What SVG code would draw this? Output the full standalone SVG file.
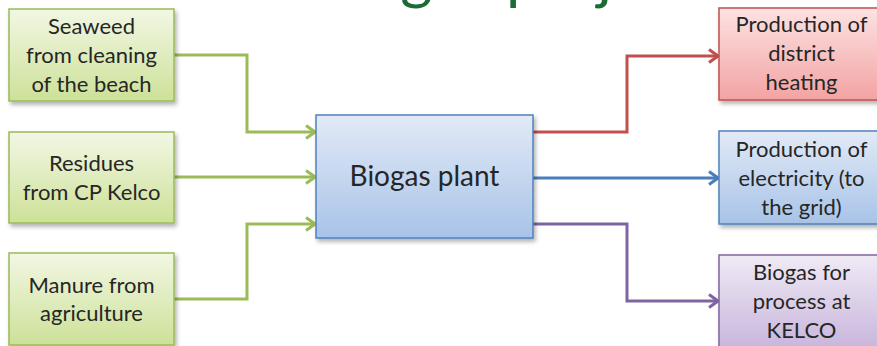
<svg xmlns="http://www.w3.org/2000/svg" width="877" height="346" viewBox="0 0 877 346">
  <style>
    .lbl { font-family: Lato, "Open Sans", "Liberation Sans", sans-serif; font-size: 22px; fill: #262626; text-anchor: middle; }
    .big { font-size: 28px; }
    .title { font-family: Lato, "Open Sans", "Liberation Sans", sans-serif; font-size: 62px; fill: #1c6b34; }
    .box { stroke-width: 1.5; filter: url(#shadow); }
    .g { fill: url(#gradGreen); stroke: #9bbb59; }
    .b { fill: url(#gradBlue); stroke: #4f81bd; }
    .r { fill: url(#gradRed); stroke: #c0504d; }
    .p { fill: url(#gradPurple); stroke: #8064a2; }
    .wire { fill: none; stroke-width: 3; stroke-linejoin: miter; }
    .wg { stroke: #9bbb59; marker-end: url(#arrG); }
    .wr { stroke: #c0504d; marker-end: url(#arrR); }
    .wb { stroke: #4a7ebb; marker-end: url(#arrB); }
    .wp { stroke: #8064a2; marker-end: url(#arrP); }
  </style>
  <defs>
    <filter id="shadow" x="-10%" y="-10%" width="125%" height="130%">
      <feDropShadow dx="2" dy="3" stdDeviation="2" flood-color="#000" flood-opacity="0.3"/>
    </filter>
    <linearGradient id="gradGreen" x1="0" y1="0" x2="0" y2="1">
      <stop offset="0" stop-color="#f2f7e4"/>
      <stop offset="1" stop-color="#cde198"/>
    </linearGradient>
    <linearGradient id="gradBlue" x1="0" y1="0" x2="0" y2="1">
      <stop offset="0" stop-color="#e2eaf6"/>
      <stop offset="1" stop-color="#a8c3e8"/>
    </linearGradient>
    <linearGradient id="gradRed" x1="0" y1="0" x2="0" y2="1">
      <stop offset="0" stop-color="#fde2e2"/>
      <stop offset="1" stop-color="#f3a3a3"/>
    </linearGradient>
    <linearGradient id="gradPurple" x1="0" y1="0" x2="0" y2="1">
      <stop offset="0" stop-color="#f0eaf5"/>
      <stop offset="1" stop-color="#c8b6dc"/>
    </linearGradient>
    <marker id="arrG" viewBox="0 0 12 16" refX="11" refY="8" markerWidth="12" markerHeight="16" markerUnits="userSpaceOnUse" orient="auto">
      <path d="M2,1.5 L11,8 L2,14.5" fill="none" stroke="#9bbb59" stroke-width="3"/>
    </marker>
    <marker id="arrR" viewBox="0 0 12 16" refX="11" refY="8" markerWidth="12" markerHeight="16" markerUnits="userSpaceOnUse" orient="auto">
      <path d="M2,1.5 L11,8 L2,14.5" fill="none" stroke="#c0504d" stroke-width="3"/>
    </marker>
    <marker id="arrB" viewBox="0 0 12 16" refX="11" refY="8" markerWidth="12" markerHeight="16" markerUnits="userSpaceOnUse" orient="auto">
      <path d="M2,1.5 L11,8 L2,14.5" fill="none" stroke="#4a7ebb" stroke-width="3"/>
    </marker>
    <marker id="arrP" viewBox="0 0 12 16" refX="11" refY="8" markerWidth="12" markerHeight="16" markerUnits="userSpaceOnUse" orient="auto">
      <path d="M2,1.5 L11,8 L2,14.5" fill="none" stroke="#8064a2" stroke-width="3"/>
    </marker>
  </defs>

  <rect width="877" height="346" fill="#ffffff"/>

  <!-- slide title, running off the top edge -->
  <text class="title" x="311" y="-3">Biogas project</text>

  <!-- connectors -->
  <g id="connectors">
    <path class="wire wg" d="M174,55 H247 V132 H315"/>
    <path class="wire wg" d="M174,177 H315"/>
    <path class="wire wg" d="M174,299 H247 V224 H315"/>
    <path class="wire wr" d="M533,132 H627 V56 H718"/>
    <path class="wire wb" d="M533,178 H718"/>
    <path class="wire wp" d="M533,224 H627 V301 H718"/>
  </g>

  <!-- inputs -->
  <g id="seaweed">
    <rect class="box g" x="9" y="9" width="165" height="92"/>
    <text class="lbl" x="91.5" y="34">Seaweed</text>
    <text class="lbl" x="91.5" y="63">from cleaning</text>
    <text class="lbl" x="91.5" y="92">of the beach</text>
  </g>
  <g id="residues">
    <rect class="box g" x="9" y="132" width="165" height="91"/>
    <text class="lbl" x="91.5" y="171">Residues</text>
    <text class="lbl" x="91.5" y="200">from CP Kelco</text>
  </g>
  <g id="manure">
    <rect class="box g" x="9" y="253" width="165" height="92"/>
    <text class="lbl" x="91.5" y="293">Manure from</text>
    <text class="lbl" x="91.5" y="321">agriculture</text>
  </g>

  <!-- central plant -->
  <g id="biogas-plant">
    <rect class="box b" x="316" y="115" width="217" height="123"/>
    <text class="lbl big" x="424.5" y="186">Biogas plant</text>
  </g>

  <!-- outputs -->
  <g id="district-heating">
    <rect class="box r" x="719" y="8" width="165" height="92"/>
    <text class="lbl" x="801.5" y="32">Production of</text>
    <text class="lbl" x="801.5" y="61">district</text>
    <text class="lbl" x="801.5" y="90">heating</text>
  </g>
  <g id="electricity">
    <rect class="box b" x="719" y="131" width="165" height="93"/>
    <text class="lbl" x="801.5" y="157">Production of</text>
    <text class="lbl" x="801.5" y="186">electricity (to</text>
    <text class="lbl" x="801.5" y="215">the grid)</text>
  </g>
  <g id="kelco-process">
    <rect class="box p" x="719" y="255" width="165" height="93"/>
    <text class="lbl" x="801.5" y="280">Biogas for</text>
    <text class="lbl" x="801.5" y="309">process at</text>
    <text class="lbl" x="801.5" y="338">KELCO</text>
  </g>
</svg>
